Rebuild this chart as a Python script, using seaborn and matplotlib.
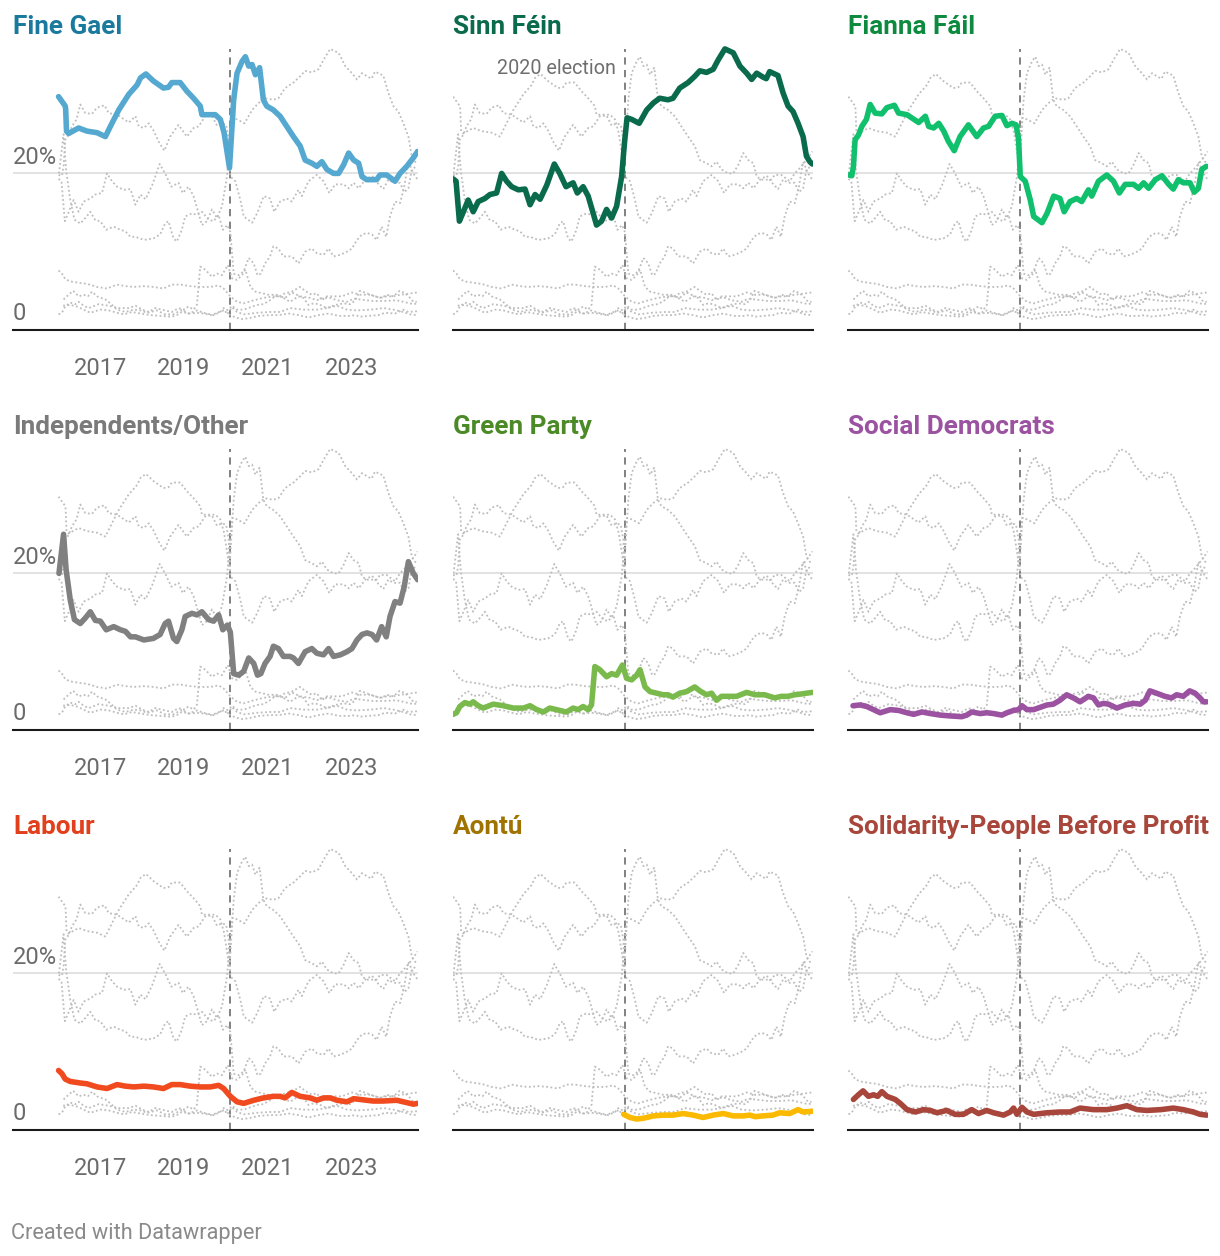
import matplotlib
matplotlib.use("Agg")
import matplotlib.pyplot as plt
import pandas as pd
import seaborn as sns

# ---------------- data (poll averages, % share; x = decimal year) ----------------
parties = ["Fine Gael", "Sinn Féin", "Fianna Fáil", "Independents/Other", "Green Party",
           "Social Democrats", "Labour", "Aontú", "Solidarity-People Before Profit"]
line_colors = ["#55a8d0", "#0a6a4c", "#10c06c", "#808080", "#7aba4c",
               "#9b52a0", "#f04a1e", "#fbb900", "#a8463b"]
title_colors = ["#1a7a9e", "#0a6a4c", "#0c8a3e", "#7a7a7a", "#4b8a26",
                "#9b52a0", "#e2401c", "#a07300", "#a8463b"]

fg_year = [2016.00, 2016.08, 2016.16, 2016.17, 2016.19, 2016.24, 2016.48, 2016.68, 2016.92, 2017.12,
           2017.24, 2017.44, 2017.68, 2017.88, 2017.96, 2018.09, 2018.27, 2018.51, 2018.63, 2018.71,
           2018.91, 2019.07, 2019.23, 2019.39, 2019.43, 2019.75, 2019.87, 2019.96, 2020.09, 2020.19,
           2020.27, 2020.39, 2020.47, 2020.55, 2020.63, 2020.71, 2020.81, 2020.90, 2020.98, 2021.14,
           2021.30, 2021.46, 2021.62, 2021.78, 2021.90, 2022.06, 2022.18, 2022.30, 2022.42, 2022.58,
           2022.70, 2022.82, 2022.94, 2023.06, 2023.18, 2023.26, 2023.37, 2023.61, 2023.69, 2023.85,
           2024.05, 2024.17, 2024.33, 2024.49, 2024.59]
fg_share = [29.8, 29.2, 28.6, 28.2, 25.4, 25.1, 25.8, 25.4, 25.2, 24.7,
            26.0, 28.1, 30.1, 31.3, 32.2, 32.7, 31.8, 30.9, 31.0, 31.6,
            31.6, 30.5, 29.6, 28.6, 27.5, 27.5, 26.9, 25.2, 20.7, 29.4,
            32.8, 34.3, 34.9, 33.7, 33.9, 32.6, 33.5, 29.4, 28.6, 28.1,
            27.3, 26.0, 24.7, 23.5, 21.7, 21.3, 20.9, 21.5, 20.5, 20.0,
            20.0, 21.1, 22.6, 21.7, 21.3, 19.6, 19.2, 19.2, 19.8, 19.8,
            19.0, 20.0, 20.9, 22.0, 22.8]

sf_year = [2016.00, 2016.07, 2016.15, 2016.23, 2016.36, 2016.48, 2016.60, 2016.76, 2016.88, 2017.04,
           2017.16, 2017.28, 2017.40, 2017.56, 2017.72, 2017.84, 2017.96, 2018.08, 2018.24, 2018.42,
           2018.55, 2018.70, 2018.87, 2018.97, 2019.11, 2019.23, 2019.35, 2019.43, 2019.55, 2019.67,
           2019.79, 2019.91, 2020.03, 2020.10, 2020.16, 2020.27, 2020.45, 2020.63, 2020.79, 2020.94,
           2021.14, 2021.26, 2021.42, 2021.62, 2021.78, 2021.90, 2022.06, 2022.22, 2022.34, 2022.50,
           2022.70, 2022.86, 2023.02, 2023.14, 2023.26, 2023.41, 2023.49, 2023.57, 2023.77, 2023.89,
           2024.01, 2024.13, 2024.25, 2024.37, 2024.45, 2024.53, 2024.59]
sf_share = [19.3, 19.0, 13.9, 14.9, 16.6, 15.1, 16.4, 16.8, 17.3, 17.5,
            20.0, 19.0, 18.3, 17.9, 18.0, 16.0, 17.3, 16.7, 18.5, 21.2,
            20.0, 18.3, 18.8, 17.5, 18.3, 17.1, 14.9, 13.4, 13.9, 15.4,
            14.3, 15.8, 19.6, 24.0, 27.1, 26.9, 26.4, 28.1, 29.0, 29.6,
            29.4, 29.6, 30.9, 31.6, 32.4, 33.1, 32.9, 33.3, 34.5, 35.9,
            35.4, 33.7, 32.8, 32.0, 32.8, 32.3, 32.1, 33.0, 32.5, 30.3,
            28.6, 27.9, 26.4, 24.7, 22.2, 21.5, 21.2]

ff_year = [2016.00, 2016.08, 2016.12, 2016.16, 2016.24, 2016.32, 2016.43, 2016.52, 2016.64, 2016.80,
           2016.92, 2017.10, 2017.20, 2017.40, 2017.68, 2017.84, 2017.92, 2018.04, 2018.16, 2018.28,
           2018.39, 2018.53, 2018.67, 2018.87, 2019.07, 2019.23, 2019.35, 2019.51, 2019.67, 2019.79,
           2019.91, 2020.01, 2020.07, 2020.11, 2020.23, 2020.35, 2020.43, 2020.63, 2020.75, 2020.91,
           2021.06, 2021.16, 2021.30, 2021.46, 2021.58, 2021.74, 2021.82, 2021.98, 2022.18, 2022.34,
           2022.48, 2022.62, 2022.82, 2022.94, 2023.06, 2023.18, 2023.34, 2023.50, 2023.66, 2023.77,
           2023.89, 2024.01, 2024.17, 2024.27, 2024.37, 2024.45, 2024.56]
ff_share = [19.8, 19.7, 20.9, 24.3, 24.9, 26.0, 26.9, 28.8, 27.7, 27.6,
            28.4, 28.7, 27.7, 27.5, 26.5, 27.3, 26.0, 25.8, 26.4, 25.4,
            24.1, 22.9, 24.7, 26.2, 24.7, 25.8, 26.0, 27.3, 27.4, 26.1,
            26.4, 26.2, 24.3, 19.6, 19.0, 16.6, 14.5, 13.7, 14.9, 17.1,
            16.8, 15.1, 16.4, 16.8, 16.4, 17.9, 17.1, 19.0, 19.8, 19.0,
            17.5, 18.6, 18.6, 18.1, 18.8, 18.1, 19.2, 19.7, 18.6, 18.0,
            19.2, 18.8, 18.8, 17.6, 18.1, 20.5, 20.9]

ind_year = [2016.01, 2016.12, 2016.18, 2016.28, 2016.38, 2016.52, 2016.64, 2016.76, 2016.88, 2017.00,
            2017.14, 2017.32, 2017.48, 2017.60, 2017.72, 2017.84, 2018.04, 2018.27, 2018.43, 2018.55,
            2018.63, 2018.75, 2018.83, 2018.95, 2019.03, 2019.19, 2019.31, 2019.43, 2019.59, 2019.71,
            2019.83, 2019.93, 2020.04, 2020.11, 2020.19, 2020.31, 2020.43, 2020.55, 2020.67, 2020.76,
            2020.84, 2020.94, 2021.06, 2021.14, 2021.26, 2021.38, 2021.54, 2021.62, 2021.74, 2021.90,
            2022.06, 2022.18, 2022.34, 2022.46, 2022.58, 2022.74, 2022.90, 2023.02, 2023.14, 2023.26,
            2023.38, 2023.50, 2023.61, 2023.73, 2023.84, 2023.93, 2024.05, 2024.17, 2024.27, 2024.37,
            2024.49, 2024.59]
ind_share = [20.0, 25.0, 20.5, 16.6, 14.1, 13.6, 14.3, 15.1, 14.0, 13.9,
             12.8, 13.2, 12.8, 12.6, 11.9, 11.9, 11.5, 11.7, 12.2, 13.6,
             13.9, 11.7, 11.3, 12.8, 14.5, 14.9, 14.7, 15.1, 14.1, 13.9,
             14.7, 12.8, 13.4, 12.5, 7.2, 7.0, 7.5, 9.2, 8.5, 7.0,
             7.2, 8.5, 9.4, 10.7, 10.4, 9.4, 9.4, 9.2, 8.5, 10.0,
             10.4, 9.8, 9.6, 10.4, 9.4, 9.6, 10.0, 10.4, 11.5, 12.2,
             12.4, 12.2, 11.5, 13.2, 11.9, 14.5, 16.4, 16.2, 18.3, 21.5,
             20.0, 19.2]

gp_year = [2016.00, 2016.08, 2016.16, 2016.28, 2016.40, 2016.48, 2016.60, 2016.72, 2016.96, 2017.20,
           2017.44, 2017.68, 2017.84, 2018.00, 2018.16, 2018.31, 2018.55, 2018.71, 2018.87, 2018.99,
           2019.11, 2019.23, 2019.31, 2019.39, 2019.51, 2019.67, 2019.79, 2019.91, 2020.05, 2020.15,
           2020.27, 2020.39, 2020.47, 2020.59, 2020.71, 2020.87, 2021.02, 2021.14, 2021.26, 2021.42,
           2021.58, 2021.78, 2021.90, 2022.06, 2022.18, 2022.30, 2022.42, 2022.62, 2022.78, 2023.02,
           2023.22, 2023.45, 2023.57, 2023.69, 2023.85, 2024.01, 2024.17, 2024.33, 2024.45, 2024.59]
gp_share = [2.0, 2.2, 3.0, 3.5, 3.3, 3.6, 3.1, 2.8, 3.3, 3.1,
            2.8, 2.8, 3.1, 2.6, 2.3, 2.8, 2.5, 2.3, 2.8, 2.6,
            3.0, 2.6, 3.2, 8.1, 7.7, 6.8, 7.2, 7.0, 8.3, 6.6,
            6.4, 7.0, 7.7, 5.5, 4.9, 4.7, 4.5, 4.5, 4.2, 4.7,
            4.9, 5.5, 5.0, 4.5, 4.7, 3.8, 4.3, 4.3, 4.3, 4.8,
            4.5, 4.5, 4.3, 4.1, 4.3, 4.3, 4.5, 4.6, 4.7, 4.8]

sd_year = [2016.11, 2016.28, 2016.44, 2016.60, 2016.76, 2017.00, 2017.20, 2017.40, 2017.56, 2017.76,
           2017.96, 2018.20, 2018.43, 2018.71, 2018.83, 2018.95, 2019.15, 2019.31, 2019.47, 2019.67,
           2019.79, 2019.95, 2020.07, 2020.15, 2020.27, 2020.43, 2020.59, 2020.75, 2020.90, 2021.06,
           2021.22, 2021.38, 2021.54, 2021.74, 2021.86, 2021.98, 2022.10, 2022.22, 2022.42, 2022.62,
           2022.82, 2022.98, 2023.10, 2023.21, 2023.37, 2023.57, 2023.73, 2023.85, 2024.01, 2024.16,
           2024.29, 2024.41, 2024.49, 2024.57]
sd_share = [3.1, 3.2, 3.0, 2.6, 2.2, 2.6, 2.5, 2.2, 2.0, 2.3,
            2.1, 1.9, 1.8, 1.7, 1.9, 2.3, 2.1, 2.2, 2.1, 1.9,
            2.2, 2.5, 2.6, 3.1, 2.6, 2.6, 2.9, 3.2, 3.3, 3.8,
            4.5, 4.1, 3.6, 4.3, 4.1, 3.2, 3.4, 3.3, 2.8, 3.2,
            3.4, 3.3, 3.8, 5.0, 4.7, 4.3, 4.1, 4.5, 4.3, 5.0,
            4.7, 4.1, 3.6, 3.6]

lab_year = [2016.00, 2016.08, 2016.16, 2016.28, 2016.52, 2016.68, 2016.92, 2017.16, 2017.40, 2017.60,
            2017.80, 2018.04, 2018.27, 2018.51, 2018.71, 2018.91, 2019.15, 2019.39, 2019.63, 2019.83,
            2019.95, 2020.11, 2020.27, 2020.43, 2020.67, 2020.90, 2021.14, 2021.30, 2021.42, 2021.58,
            2021.78, 2022.02, 2022.18, 2022.34, 2022.50, 2022.66, 2022.90, 2023.06, 2023.37, 2023.53,
            2023.77, 2024.09, 2024.33, 2024.49, 2024.59]
lab_share = [7.6, 7.2, 6.5, 6.2, 6.0, 5.9, 5.5, 5.3, 5.8, 5.6,
             5.5, 5.6, 5.5, 5.3, 5.8, 5.8, 5.6, 5.5, 5.5, 5.7,
             5.3, 4.3, 3.6, 3.4, 3.8, 4.1, 4.3, 4.3, 4.1, 4.8,
             4.3, 4.1, 3.8, 4.1, 4.1, 3.8, 3.6, 4.0, 3.8, 3.7,
             3.7, 3.8, 3.5, 3.3, 3.4]

aon_year = [2020.08, 2020.23, 2020.39, 2020.55, 2020.79, 2021.02, 2021.26, 2021.50, 2021.74, 2021.98,
            2022.22, 2022.46, 2022.70, 2022.94, 2023.10, 2023.22, 2023.41, 2023.65, 2023.81, 2024.05,
            2024.25, 2024.37, 2024.59]
aon_share = [2.0, 1.6, 1.4, 1.5, 1.8, 1.9, 1.9, 2.1, 1.9, 1.6,
             1.9, 2.1, 1.8, 1.8, 1.9, 1.7, 1.8, 1.9, 2.2, 2.1,
             2.6, 2.3, 2.4]

spbp_year = [2016.12, 2016.24, 2016.35, 2016.48, 2016.60, 2016.70, 2016.80, 2016.92, 2017.12, 2017.24,
             2017.40, 2017.60, 2017.80, 2017.96, 2018.12, 2018.35, 2018.55, 2018.75, 2018.95, 2019.11,
             2019.31, 2019.47, 2019.71, 2019.87, 2019.95, 2020.03, 2020.15, 2020.27, 2020.43, 2020.75,
             2021.06, 2021.30, 2021.54, 2021.86, 2022.18, 2022.42, 2022.66, 2022.90, 2023.14, 2023.47,
             2023.77, 2024.01, 2024.25, 2024.41, 2024.57]
spbp_share = [3.9, 4.5, 5.0, 4.3, 4.5, 4.3, 4.9, 4.3, 3.9, 3.4,
              2.6, 2.3, 2.6, 2.5, 2.2, 2.5, 2.0, 2.0, 2.6, 2.1,
              2.5, 2.2, 1.9, 2.3, 2.8, 2.0, 2.9, 2.3, 2.0, 2.2,
              2.3, 2.3, 2.8, 2.6, 2.6, 2.8, 3.1, 2.6, 2.5, 2.6,
              2.8, 2.6, 2.3, 2.0, 1.9]

election_year = 2020.1
x_ticks = [2017, 2019, 2021, 2023]
y_labels = {20: "20%", 0: "0"}

series = [(fg_year, fg_share), (sf_year, sf_share), (ff_year, ff_share), (ind_year, ind_share),
          (gp_year, gp_share), (sd_year, sd_share), (lab_year, lab_share), (aon_year, aon_share),
          (spbp_year, spbp_share)]
frames = [pd.DataFrame({"party": p, "year": yr, "share": sh}) for p, (yr, sh) in zip(parties, series)]
df = pd.concat(frames, ignore_index=True)

# ---------------- style ----------------
sns.set_theme(style="white")
plt.rcParams["font.family"] = ["Roboto", "DejaVu Sans"]

W, H = 1220, 1256
fig = plt.figure(figsize=(W / 100, H / 100), dpi=100)
fig.patch.set_facecolor("white")

YMAX = 36.5
px_per_pct = 7.83
ax_h = YMAX * px_per_pct
col_left = [13, 452.7, 848]
col_right = [418, 812.7, 1208]
row_zero = [330, 730, 1130]
title_base = [34, 434, 834]

for i, party in enumerate(parties):
    r, c = divmod(i, 3)
    left = col_left[c] / W
    width = (col_right[c] - col_left[c]) / W
    bottom = 1 - row_zero[r] / H
    ax = fig.add_axes([left, bottom, width, ax_h / H])
    ax.set_facecolor("white")

    xmin = 2014.91 if c == 0 else 2015.99
    ax.set_xlim(xmin, 2024.60)
    ax.set_ylim(0, YMAX)

    ax.axhline(20, color="#e2e2e2", lw=1.4, zorder=0)
    ax.vlines(election_year, 0, 35.9, colors="#777777", linestyles=(0, (4, 3)), lw=1.3, zorder=1)

    sns.lineplot(data=df, x="year", y="share", units="party", estimator=None, sort=True,
                 color="#bdbdbd", lw=1.3, linestyle=(0, (1, 1.4)), ax=ax, legend=False, zorder=2)
    sub = df[df["party"] == party]
    sns.lineplot(data=sub, x="year", y="share", estimator=None, color=line_colors[i], lw=4.0,
                 ax=ax, legend=False, zorder=3, solid_capstyle="round", solid_joinstyle="round")

    ax.set_xlabel("")
    ax.set_ylabel("")
    for s in ["top", "right", "left"]:
        ax.spines[s].set_visible(False)
    ax.spines["bottom"].set_color("#1a1a1a")
    ax.spines["bottom"].set_linewidth(1.5)
    ax.set_yticks([])
    ax.set_xticks(x_ticks)
    ax.tick_params(axis="x", direction="out", length=6.5, width=1.5, color="#1a1a1a",
                   pad=13, labelsize=17, labelcolor="#6b6b6b")
    if c == 0:
        ax.set_xticklabels([str(t) for t in x_ticks])
        for val, lab in y_labels.items():
            ax.annotate(lab, xy=(0, val), xycoords=("axes fraction", "data"), xytext=(0, 7),
                        textcoords="offset points", ha="left", va="baseline",
                        fontsize=17, color="#6b6b6b")
    else:
        ax.set_xticklabels([])

    if i == 1:
        ax.annotate("2020 election", xy=(election_year, (330 - 74) / px_per_pct),
                    xytext=(-6, 0), textcoords="offset points", ha="right", va="baseline",
                    fontsize=14.2, color="#6e6e6e")

    fig.text(col_left[c] / W, 1 - title_base[r] / H, party, ha="left", va="baseline",
             fontsize=18.8, fontweight="bold", color=title_colors[i])

fig.text(11 / W, 1 - 1239 / H, "Created with Datawrapper", ha="left", va="baseline",
         fontsize=15.7, color="#8a8a8a")

fig.savefig("out.png", dpi=100, facecolor="white")
